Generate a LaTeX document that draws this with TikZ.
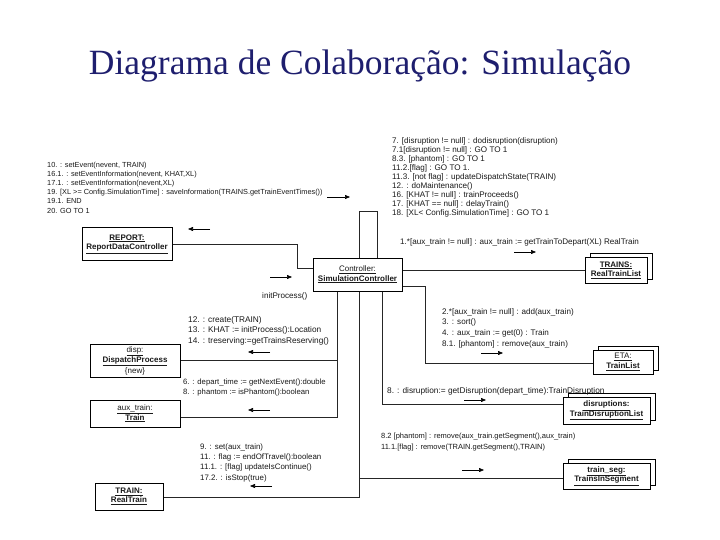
\documentclass[tikz,border=0pt]{standalone}
\usepackage{fontspec}
\setmainfont{Liberation Sans}
\newfontfamily\titlefont{Liberation Serif}
\usetikzlibrary{arrows.meta,calc}
\definecolor{titleblue}{RGB}{30,30,110}
\definecolor{ink}{RGB}{25,25,25}
\begin{document}
\begin{tikzpicture}[x=1pt,y=-1pt,
  obj/.style={draw=black, line width=1pt, fill=white, align=center, inner sep=0pt,
    font=\fontsize{8}{9.5}\selectfont, text=ink},
  msg/.style={align=left, anchor=north west, inner sep=0pt, text=ink},
  fs/.style 2 args={font=\fontsize{#1}{#2}\selectfont},
  link/.style={draw=black!85, line width=0.6pt},
  marrow/.style={-{Triangle[length=5pt,width=4pt]}, line width=0.6pt, draw=black}]
\useasboundingbox (0,0) rectangle (720,540);
\fill[white] (0,0) rectangle (720,540);

% title
\node[anchor=base, font=\titlefont\fontsize{35.5}{40}\selectfont, text=titleblue, inner sep=0pt] (title) at (360,75) {Diagrama de Colaboração: Simulação};

% objects
\node[obj, minimum width=90pt, minimum height=32pt] (report) at (127,244) {\underline{\textbf{REPORT:}}\\\underline{\textbf{ReportDataController}}};
\node[obj, minimum width=89pt, minimum height=33pt] (ctrl) at (357.5,274.5) {\underline{Controller:}\\\underline{\textbf{SimulationController}}};
\node[obj, minimum width=62pt, minimum height=26pt] (trainsB) at (621,266) {};
\node[obj, minimum width=62pt, minimum height=26pt] (trains) at (616,270) {\underline{\textbf{TRAINS:}}\\\underline{\textbf{RealTrainList}}};
\node[obj, minimum width=60pt, minimum height=24pt] (etaB) at (628,358) {};
\node[obj, minimum width=60pt, minimum height=24pt] (eta) at (623,362) {\underline{ETA:}\\\underline{\textbf{TrainList}}};
\node[obj, minimum width=87pt, minimum height=27pt] (disrB) at (611.5,406.5) {};
\node[obj, minimum width=87pt, minimum height=27pt] (disr) at (606.5,410.5) {\underline{\textbf{disruptions:}}\\\underline{\textbf{TrainDisruptionList}}};
\node[obj, minimum width=87pt, minimum height=26pt] (segB) at (611.5,472) {};
\node[obj, minimum width=87pt, minimum height=26pt] (seg) at (606.5,476) {\underline{\textbf{train\_seg:}}\\\underline{\textbf{TrainsInSegment}}};
\node[obj, minimum width=90pt, minimum height=33pt, font=\fontsize{8}{9}\selectfont] (disp) at (135,360.5) {\underline{disp:}\\\underline{\textbf{DispatchProcess}}\\\{new\}};
\node[obj, minimum width=90pt, minimum height=27pt] (aux) at (135,413.5) {\underline{aux\_train:}\\\underline{\textbf{Train}}};
\node[obj, minimum width=68pt, minimum height=27pt] (train) at (129,496.5) {\underline{\textbf{TRAIN:}}\\\underline{\textbf{RealTrain}}};

% connector corner coordinates
\coordinate (loopL) at (359,211);
\coordinate (loopR) at (377,211);
\coordinate (repA) at (297,244);
\coordinate (repB) at (297,268);
\coordinate (etaA) at (425,286);
\coordinate (etaC) at (425,363);
\coordinate (disA) at (382,404);
\coordinate (auxA) at (337,417);
\coordinate (dispA) at (337,360);
\coordinate (trA) at (359,497);
\coordinate (segA) at (359,478);

% connectors
\draw[link] (ctrl.north -| loopL) -- (loopL) -- (loopR) -- (ctrl.north -| loopR);
\draw[link] (report.east |- repA) -- (repA) -- (repB) -- (ctrl.west |- repB);
\draw[link] (ctrl.east |- trains.west) -- (trains.west);
\draw[link] (ctrl.east |- etaA) -- (etaA) -- (etaC) -- (eta.west |- etaC);
\draw[link] (ctrl.south -| disA) -- (disA) -- (disr.west |- disA);
\draw[link] (ctrl.south -| auxA) -- (auxA) -- (aux.east |- auxA);
\draw[link] (dispA) -- (disp.east |- dispA);
\draw[link] (ctrl.south -| trA) -- (trA) -- (train.east |- trA);
\draw[link] (segA) -- (seg.west |- segA);

% message arrows
\draw[marrow] (210,229) -- (188,229);
\draw[marrow] (270,277) -- (292,277);
\draw[marrow] (327,197) -- (350,197);
\draw[marrow] (514,252) -- (536,252);
\draw[marrow] (481,353) -- (503,353);
\draw[marrow] (270,352) -- (248,352);
\draw[marrow] (270,410) -- (248,410);
\draw[marrow] (464,400) -- (486,400);
\draw[marrow] (462,470) -- (484,470);
\draw[marrow] (272,486) -- (250,486);

% messages
\node[msg, fs={7.35}{9.2}] (m1) at (47,161.5) {10. : setEvent(nevent, TRAIN)\\16.1. : setEventInformation(nevent, KHAT,XL)\\17.1. : setEventInformation(nevent,XL)\\19. [XL >= Config.SimulationTime] : saveInformation(TRAINS.getTrainEventTimes())\\19.1. END\\20. GO TO 1};
\node[msg, fs={8.1}{9.1}] (m2) at (392,137) {7. [disruption != null] : dodisruption(disruption)\\7.1[disruption != null] : GO TO 1\\8.3. [phantom] : GO TO 1\\11.2.[flag] : GO TO 1.\\11.3. [not flag] : updateDispatchState(TRAIN)\\12. : doMaintenance()\\16. [KHAT != null] : trainProceeds()\\17. [KHAT == null] : delayTrain()\\18. [XL< Config.SimulationTime] : GO TO 1};
\node[msg, fs={8.1}{9}] (m3) at (400,238) {1.*[aux\_train != null] : aux\_train := getTrainToDepart(XL) RealTrain};
\node[msg, fs={8.1}{9}] (m4) at (262,292) {initProcess()};
\node[msg, fs={8.3}{10.5}] (m5) at (188,316) {12. : create(TRAIN)\\13. : KHAT := initProcess():Location\\14. : treserving:=getTrainsReserving()};
\node[msg, fs={8.1}{10.8}] (m6) at (442,308) {2.*[aux\_train != null] : add(aux\_train)\\3. : sort()\\4. : aux\_train := get(0) : Train\\8.1. [phantom] : remove(aux\_train)};
\node[msg, fs={7.7}{10}] (m7) at (183,379) {6. : depart\_time := getNextEvent():double\\8. : phantom := isPhantom():boolean};
\node[msg, fs={8.3}{9}] (m8) at (387,387) {8. : disruption:= getDisruption(depart\_time):TrainDisruption};
\node[msg, fs={7.5}{11}] (m9) at (381,433) {8.2 [phantom] : remove(aux\_train.getSegment(),aux\_train)\\11.1.[flag] : remove(TRAIN.getSegment(),TRAIN)};
\node[msg, fs={7.9}{10.2}] (m10) at (200,443.5) {9. : set(aux\_train)\\11. : flag := endOfTravel():boolean\\11.1. : [flag] updateIsContinue()\\17.2. : isStop(true)};
\end{tikzpicture}
\end{document}
